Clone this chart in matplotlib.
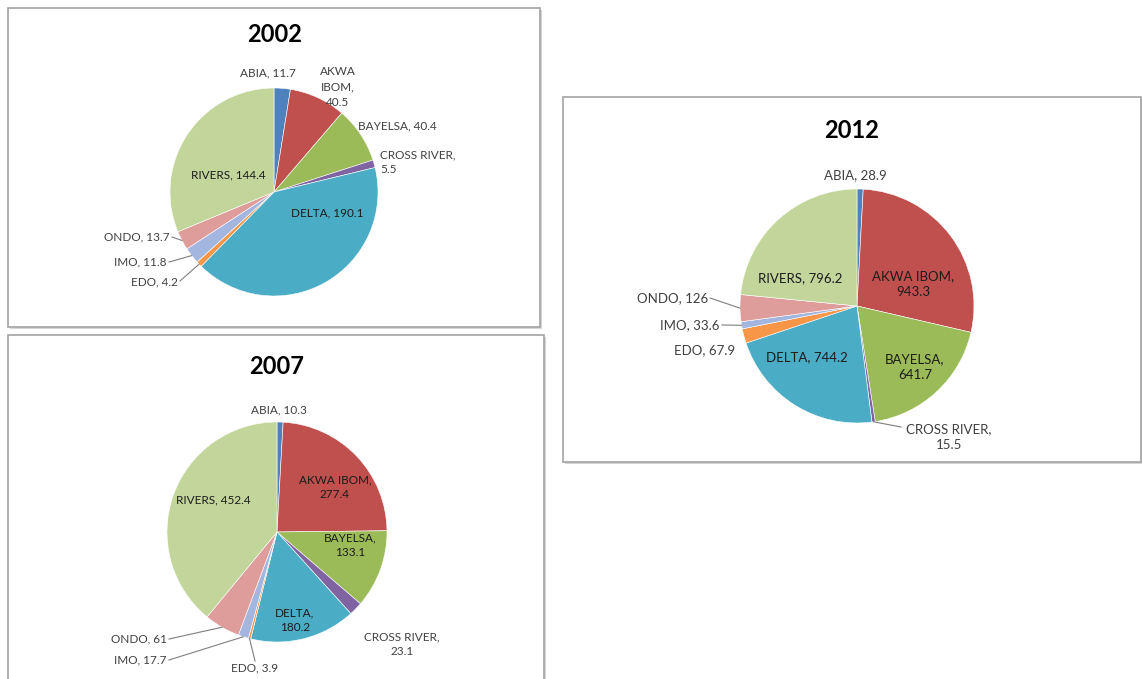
import matplotlib.pyplot as plt
import numpy as np
from matplotlib.patches import Rectangle

W, H = 1142, 679

STATES = ["ABIA", "AKWA IBOM", "BAYELSA", "CROSS RIVER", "DELTA", "EDO", "IMO", "ONDO", "RIVERS"]
COLORS = ["#4F81BD", "#C0504D", "#9BBB59", "#8064A2", "#4BACC6", "#F79646", "#A2B6DF", "#DE9C9A", "#C2D69B"]

VALUES_2002 = [11.7, 40.5, 40.4, 5.5, 190.1, 4.2, 11.8, 13.7, 144.4]
VALUES_2007 = [10.3, 277.4, 133.1, 23.1, 180.2, 3.9, 17.7, 61, 452.4]
VALUES_2012 = [28.9, 943.3, 641.7, 15.5, 744.2, 67.9, 33.6, 126, 796.2]

FONT = ["Lato", "DejaVu Sans"]
TEXT_OUT = "#404040"
TEXT_IN = "#1c1c1c"
LEADER = "#7f7f7f"

# all positions are pixels measured from the top-left corner of the figure
# label: (x, y, ha, split, inside, leader_start)
PANELS = [
    {
        "year": "2002",
        "values": VALUES_2002,
        "box": (8, 8, 540, 327),
        "title": (275, 35),
        "center": (274, 192),
        "radius": 104,
        "fontsize": 8.5,
        "labels": {
            "ABIA": (268, 73, "center", "one", False, None),
            "AKWA IBOM": (338, 87, "center", "words", False, None),
            "BAYELSA": (397, 126, "center", "one", False, None),
            "CROSS RIVER": (380, 162, "left", "comma", False, None),
            "DELTA": (327, 213, "center", "one", True, None),
            "EDO": (178, 282, "right", "one", False, (180, 281)),
            "IMO": (167, 262, "right", "one", False, (169, 262)),
            "ONDO": (170, 237, "right", "one", False, (172, 237)),
            "RIVERS": (228, 175, "center", "one", True, None),
        },
    },
    {
        "year": "2007",
        "values": VALUES_2007,
        "box": (8, 335, 544, 700),
        "title": (277, 367),
        "center": (277, 532),
        "radius": 110,
        "fontsize": 8.5,
        "labels": {
            "ABIA": (279, 410, "center", "one", False, None),
            "AKWA IBOM": (335, 487, "center", "comma", True, None),
            "BAYELSA": (350, 545, "center", "comma", True, None),
            "CROSS RIVER": (402, 644, "center", "comma", False, None),
            "DELTA": (295, 620, "center", "comma", True, None),
            "EDO": (255, 668, "center", "one", False, (255, 661)),
            "IMO": (167, 660, "right", "one", False, (169, 660)),
            "ONDO": (167, 639, "right", "one", False, (169, 639)),
            "RIVERS": (213, 500, "center", "one", True, None),
        },
    },
    {
        "year": "2012",
        "values": VALUES_2012,
        "box": (563, 97, 1141, 462),
        "title": (852, 130),
        "center": (857, 306),
        "radius": 117,
        "fontsize": 9.5,
        "labels": {
            "ABIA": (855, 175, "center", "one", False, None),
            "AKWA IBOM": (913, 284, "center", "comma", True, None),
            "BAYELSA": (915, 367, "center", "comma", True, None),
            "CROSS RIVER": (949, 437, "center", "comma", False, (901, 427)),
            "DELTA": (807, 357, "center", "one", True, None),
            "EDO": (735, 350, "right", "one", False, None),
            "IMO": (720, 325, "right", "one", False, (722, 325)),
            "ONDO": (708, 298, "right", "one", False, (710, 298)),
            "RIVERS": (800, 278, "center", "one", True, None),
        },
    },
]


def px(x, y):
    return x, H - y


def label_text(state, value, split):
    text = f"{state}, {value:g}"
    if split == "comma":
        return text.replace(", ", ",\n")
    if split == "words":
        return text.replace(" ", "\n")
    return text


def draw_panel(ax, panel):
    x0, y0, x1, y1 = panel["box"]
    ax.add_patch(Rectangle(px(x0 + 1.5, y1 + 1.5), x1 - x0, y1 - y0,
                           facecolor="#d4d4d4", edgecolor="none", zorder=0))
    ax.add_patch(Rectangle(px(x0, y1), x1 - x0, y1 - y0,
                           facecolor="white", edgecolor="#a3a3a3", linewidth=1.2, zorder=1))

    ax.text(*px(*panel["title"]), panel["year"], ha="center", va="center",
            fontsize=17, fontweight="bold", family=FONT, color="black", zorder=5)

    cx, cy = px(*panel["center"])
    r = panel["radius"]
    wedges, _ = ax.pie(panel["values"], colors=COLORS, startangle=90, counterclock=False,
                       center=(cx, cy), radius=r, frame=True,
                       wedgeprops=dict(edgecolor="white", linewidth=0.4))
    for w in wedges:
        w.set_zorder(2)

    for state, value, w in zip(STATES, panel["values"], wedges):
        x, y, ha, split, inside, leader = panel["labels"][state]
        ax.text(*px(x, y), label_text(state, value, split), ha=ha, va="center",
                multialignment=ha, linespacing=1.45, fontsize=panel["fontsize"],
                family=FONT, color=TEXT_IN if inside else TEXT_OUT, zorder=5)
        if leader is not None:
            mid = np.deg2rad((w.theta1 + w.theta2) / 2)
            ex, ey = cx + r * np.cos(mid), cy + r * np.sin(mid)
            sx, sy = px(*leader)
            ax.plot([sx, ex], [sy, ey], color=LEADER, linewidth=0.8, zorder=4)


def main():
    fig = plt.figure(figsize=(W / 100, H / 100), dpi=100)
    ax = fig.add_axes([0, 0, 1, 1])

    for panel in PANELS:
        draw_panel(ax, panel)

    ax.set_xlim(0, W)
    ax.set_ylim(0, H)
    ax.set_aspect("auto")
    ax.axis("off")

    fig.savefig("out.png", dpi=100, facecolor="white")
    plt.close(fig)


if __name__ == "__main__":
    main()
